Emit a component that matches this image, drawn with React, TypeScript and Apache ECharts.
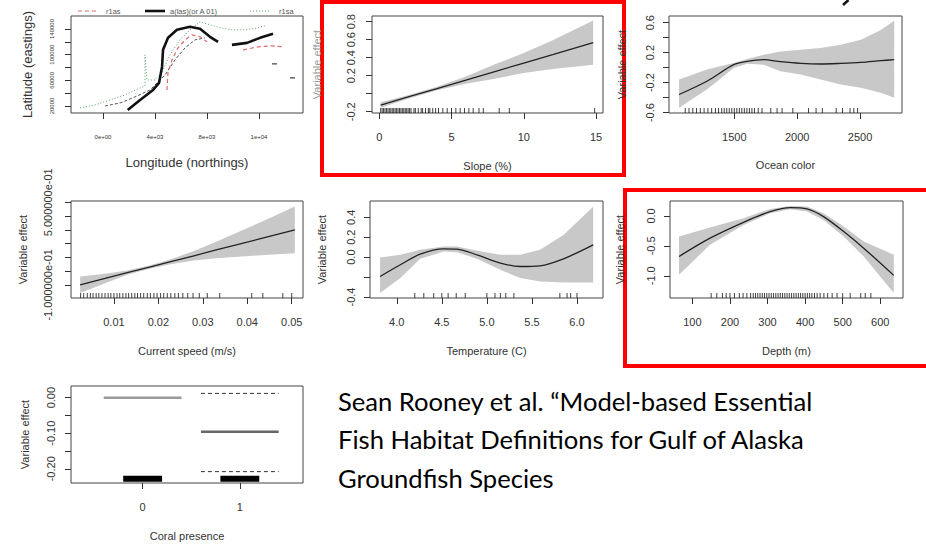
import React, { useEffect, useRef } from "react";
import * as echarts from "echarts";

const FONT = "'Liberation Sans', Arial, Helvetica, sans-serif";
const BAND = "#c8c8c8";
const FIT = "#222222";
const AXC = "#333333";

// ---------- Panel 1: map (longitude/latitude in thousands) ----------
const mapXTicks = [0, 4, 8, 12];
const mapXTickLabels = ["0e+00", "4e+03", "8e+03", "1e+04"];
const mapYTicks = [20, 40, 60, 80, 100, 120, 140];
const mapYLabelTicks = [20, 60, 100, 140];
const mapLegendNames = ["r1as", "a(las)(or A 01)", "r1sa"];
const mapRedA = [[4.92, 45], [5.0, 73.1], [5.31, 91.9], [5.77, 110.6], [6.31, 123.1], [6.85, 130.9], [7.46, 127.8], [8.0, 120]];
const mapRedB = [[10.77, 107.5], [11.92, 112.2], [13.0, 113.75], [13.85, 112.2]];
const mapBlackA = [[1.9, 13.75], [2.85, 29.4], [3.85, 45], [4.31, 55.9], [4.54, 80.9], [4.62, 107.5], [5.0, 126.25], [5.69, 138.75], [6.69, 143.4], [7.46, 140.3], [8.23, 127.8], [8.85, 120]];
const mapBlackB = [[9.92, 115.3], [11.08, 118.4], [12.08, 126.25], [13.08, 132.5]];
const mapGreen = [[-1.77, 16.9], [-0.62, 21.6], [0.54, 29.4], [1.69, 37.2], [2.85, 48.1], [3.23, 51.25], [3.23, 99.7], [3.38, 60.6], [4.0, 60.6], [4.54, 73.1], [5.15, 99.7], [5.92, 123.1], [6.69, 138.75], [7.46, 151.25], [8.23, 146.6], [9.0, 141.9], [9.92, 138.75], [10.92, 138.75], [11.92, 141.9], [12.46, 145]];
const mapGreyA = [[0.15, 20], [1.31, 24.7], [2.46, 34.1], [3.62, 45], [4.77, 68.4], [5.54, 91.9], [6.31, 110.6], [7.08, 123.1], [7.85, 126.25]];
const mapGreyB = [[13.0, 85.6], [13.38, 85.6]];
const mapGreyC = [[14.38, 63.75], [14.77, 63.75]];

// ---------- Panel 2: slope ----------
const slopeTicksX = [0, 5, 10, 15];
const slopeTicksY = [-0.2, 0, 0.2, 0.4, 0.6, 0.8];
const slopeLabelsY = [-0.2, 0.2, 0.4, 0.6, 0.8];
const slopeX = [0.1, 2, 4, 6, 8, 10, 12, 14.8];
const slopeFit = [-0.126, -0.036, 0.058, 0.152, 0.246, 0.341, 0.435, 0.567];
const slopeUpper = [-0.096, -0.016, 0.078, 0.192, 0.326, 0.451, 0.595, 0.812];
const slopeLower = [-0.156, -0.056, 0.038, 0.112, 0.166, 0.231, 0.275, 0.322];
const slopeRug = [0.1, 0.2, 0.3, 0.4, 0.5, 0.6, 0.7, 0.8, 0.9, 1.0, 1.1, 1.2, 1.3, 1.4, 1.5, 1.6, 1.7, 1.8, 1.9, 2.0, 2.1, 2.2, 2.4, 2.5, 2.7, 2.9, 3.0, 3.2, 3.4, 3.5, 3.7, 3.9, 4.1, 4.4, 4.7, 5.0, 5.3, 5.6, 5.9, 6.2, 6.5, 6.9, 7.2, 8.3, 9.0, 14.9];

// ---------- Panel 3: ocean color ----------
const oceanTicksX = [1500, 2000, 2500];
const oceanTicksY = [-0.6, -0.4, -0.2, 0, 0.2, 0.4, 0.6];
const oceanLabelsY = [-0.6, -0.2, 0.2, 0.6];
const oceanX = [1061, 1282, 1495, 1601, 1734, 1867, 2027, 2186, 2346, 2506, 2665, 2771];
const oceanFit = [-0.358, -0.181, 0.04, 0.083, 0.106, 0.079, 0.057, 0.049, 0.057, 0.07, 0.093, 0.106];
const oceanUpper = [-0.159, -0.026, 0.062, 0.115, 0.172, 0.216, 0.238, 0.261, 0.305, 0.371, 0.503, 0.626];
const oceanLower = [-0.534, -0.291, -0.004, 0.053, 0.04, -0.049, -0.093, -0.159, -0.225, -0.269, -0.335, -0.401];
const oceanRug = [1110, 1140, 1170, 1200, 1230, 1260, 1290, 1320, 1350, 1375, 1400, 1420, 1440, 1460, 1480, 1500, 1520, 1540, 1560, 1580, 1600, 1620, 1640, 1660, 1690, 1720, 1790, 1840, 1880, 1965, 2090, 2150, 2200, 2310, 2360, 2420, 2450, 2480];

// ---------- Panel 4: current speed ----------
const curTicksX = [0.01, 0.02, 0.03, 0.04, 0.05];
const curTicksY = [-0.1, 0, 0.1, 0.2, 0.3, 0.4, 0.5];
const curLabelsY = [-0.1, 0.5];
const curX = [0.0024, 0.008, 0.013, 0.018, 0.023, 0.028, 0.033, 0.038, 0.043, 0.0507];
const curFit = [-0.1, -0.054, -0.012, 0.029, 0.07, 0.111, 0.153, 0.194, 0.235, 0.299];
const curUpper = [-0.04, -0.019, 0.003, 0.041, 0.088, 0.146, 0.213, 0.284, 0.355, 0.469];
const curLower = [-0.16, -0.089, -0.027, 0.017, 0.052, 0.076, 0.093, 0.104, 0.115, 0.129];
const curRug = [0.0025, 0.0032, 0.004, 0.0047, 0.0053, 0.006, 0.0066, 0.0073, 0.008, 0.0087, 0.0093, 0.01, 0.0107, 0.0113, 0.012, 0.0127, 0.0133, 0.014, 0.0147, 0.0153, 0.016, 0.0167, 0.0175, 0.0182, 0.019, 0.0197, 0.0205, 0.0212, 0.022, 0.0228, 0.0237, 0.0245, 0.0255, 0.0266, 0.0278, 0.0292, 0.031, 0.0338, 0.041, 0.0435, 0.048, 0.05];

// ---------- Panel 5: temperature ----------
const tempTicksX = [4.0, 4.5, 5.0, 5.5, 6.0];
const tempTicksY = [-0.4, -0.2, 0, 0.2, 0.4];
const tempLabelsY = [-0.4, 0, 0.2, 0.4];
const tempX = [3.815, 4.04, 4.26, 4.52, 4.67, 4.89, 5.15, 5.37, 5.59, 5.85, 6.18];
const tempFit = [-0.194, -0.077, 0.03, 0.083, 0.08, 0.023, -0.06, -0.094, -0.087, -0.017, 0.123];
const tempUpper = [-0.004, 0.023, 0.073, 0.106, 0.106, 0.063, 0.023, 0.023, 0.073, 0.223, 0.506];
const tempLower = [-0.36, -0.21, -0.017, 0.056, 0.05, -0.017, -0.127, -0.21, -0.244, -0.254, -0.254];
const tempRug = [4.2, 4.3, 4.41, 4.5, 4.57, 4.66, 4.76, 5.0, 5.09, 5.15, 5.21, 5.3, 5.81, 5.89, 5.93, 6.0];

// ---------- Panel 6: depth ----------
const depthTicksX = [100, 200, 300, 400, 500, 600];
const depthTicksY = [-1.0, -0.5, 0.0];
const depthX = [64.5, 147, 236, 307, 360.5, 405, 449, 502.7, 556, 636];
const depthFit = [-0.678, -0.372, -0.106, 0.072, 0.139, 0.117, -0.011, -0.261, -0.539, -0.994];
const depthUpper = [-0.344, -0.194, -0.039, 0.117, 0.167, 0.16, 0.044, -0.178, -0.428, -0.65];
const depthLower = [-0.983, -0.483, -0.15, 0.044, 0.111, 0.075, -0.067, -0.344, -0.678, -1.289];
const depthRug = [150, 165, 180, 190, 200, 212, 225, 235, 245, 255, 262, 268, 274, 280, 286, 292, 298, 304, 310, 316, 322, 328, 334, 340, 346, 352, 358, 364, 370, 376, 382, 388, 394, 400, 406, 412, 418, 425, 432, 440, 450, 460, 472, 485, 500, 520, 548, 560, 575];

// ---------- Panel 7: coral presence ----------
const coralTicksX = [0, 1];
const coralTicksY = [0, -0.05, -0.1, -0.15, -0.2];
const coralLabelsY = [0, -0.1, -0.2];
const coralLevels = [0, 1];
const coralEffect = [0.0, -0.096];
const coralUpper = [null, 0.012];
const coralLower = [null, -0.208];
const coralRugY = -0.228;

// ---------- citation ----------
const citationLines = [
  "Sean Rooney et al. \u201cModel-based Essential",
  "Fish Habitat Definitions for Gulf of Alaska",
  "Groundfish Species",
];

const fmtExp = (v: number) => {
  const [m, e] = v.toExponential(6).split("e");
  const sign = e[0] === "-" ? "-" : "+";
  const d = e.replace(/[+-]/, "").padStart(2, "0");
  return `${m}e${sign}${d}`;
};

type AxOpt = {
  g: number; min: number; max: number; ticks: number[]; labels?: number[];
  fmt: (v: number) => string; name: string; nameGap: number; margin: number;
  fs?: number; nfs?: number; nameColor?: string;
};

const xAx = (o: AxOpt) => ({
  type: "value", gridIndex: o.g, min: o.min, max: o.max,
  name: o.name, nameLocation: "middle", nameGap: o.nameGap,
  nameTextStyle: { fontSize: o.nfs ?? 11, color: o.nameColor ?? AXC, fontFamily: FONT },
  axisLine: { show: false, onZero: false },
  axisTick: { show: true, length: 6, customValues: o.ticks, lineStyle: { color: AXC, width: 1 } },
  axisLabel: { show: true, customValues: o.labels ?? o.ticks, formatter: o.fmt, margin: o.margin, fontSize: o.fs ?? 11, color: AXC, fontFamily: FONT },
  splitLine: { show: false },
});

const yAx = (o: AxOpt) => ({
  ...xAx(o),
  axisLabel: { show: true, customValues: o.labels ?? o.ticks, formatter: o.fmt, margin: o.margin, fontSize: o.fs ?? 11, color: AXC, fontFamily: FONT, rotate: 90 },
});

const bandSeries = (idx: number, xs: number[], lo: number[], hi: number[]) => ({
  type: "custom", xAxisIndex: idx, yAxisIndex: idx, silent: true, z: 1,
  encode: { x: 0, y: [1, 2] },
  data: xs.map((x, i) => [x, lo[i], hi[i]]),
  renderItem: (params: any, api: any) => {
    if (params.dataIndex !== 0) return null;
    const pts: number[][] = [];
    xs.forEach((x, i) => pts.push(api.coord([x, hi[i]])));
    for (let i = xs.length - 1; i >= 0; i--) pts.push(api.coord([xs[i], lo[i]]));
    return { type: "polygon", shape: { points: pts }, style: { fill: BAND } };
  },
});

const fitSeries = (idx: number, xs: number[], ys: number[], smooth = 0) => ({
  type: "line", xAxisIndex: idx, yAxisIndex: idx, silent: true, z: 3,
  data: xs.map((x, i) => [x, ys[i]]),
  symbol: "none", showSymbol: false, smooth,
  lineStyle: { color: FIT, width: 1.3 },
});

const rugSeries = (idx: number, xs: number[], yBase: number) => ({
  type: "scatter", xAxisIndex: idx, yAxisIndex: idx, silent: true, z: 4, clip: false,
  data: xs.map((x) => [x, yBase]),
  symbol: "rect", symbolSize: [1, 5], symbolOffset: [0, -2.5],
  itemStyle: { color: "#111" },
});

const plainLine = (idx: number, data: any[], color: string, width: number, type: any, name?: string) => ({
  type: "line", name, xAxisIndex: idx, yAxisIndex: idx, silent: true, z: 3,
  data, symbol: "none", showSymbol: false,
  lineStyle: { color, width, type },
  itemStyle: { color },
});

const RED = "#e06a6a";
const GREEN = "#5a9e6a";

export default function App() {
  const ref = useRef<HTMLDivElement>(null);
  useEffect(() => {
    if (!ref.current) return;
    const chart = echarts.init(ref.current, undefined, { renderer: "svg" });
    const gridBase = { show: true, borderColor: "#444", borderWidth: 1, backgroundColor: "transparent", containLabel: false };
    const grids = [
      { left: 71, top: 16, width: 232, height: 97 },
      { left: 372, top: 16, width: 231, height: 97 },
      { left: 669, top: 16, width: 233, height: 97 },
      { left: 71, top: 201, width: 232, height: 97 },
      { left: 370, top: 201, width: 233, height: 97 },
      { left: 670, top: 201, width: 233, height: 97 },
      { left: 71, top: 386, width: 232, height: 97 },
    ].map((g) => ({ ...gridBase, ...g }));

    const f1 = (v: number) => v.toFixed(1);
    const f2 = (v: number) => v.toFixed(2);

    const mapLim = { ymin: 9.06, ymax: 160.3 };
    const slopeLim = { ymin: -0.214, ymax: 0.863 };
    const oceanLim = { ymin: -0.605, ymax: 0.689 };
    const curLim = { ymin: -0.196, ymax: 0.509 };
    const tempLim = { ymin: -0.41, ymax: 0.563 };
    const depthLim = { ymin: -1.372, ymax: 0.25 };
    const coralLim = { ymin: -0.24, ymax: 0.0328 };

    const xAxis = [
      xAx({ g: 0, min: -2.462, max: 15.385, ticks: mapXTicks, fmt: (v) => mapXTickLabels[mapXTicks.indexOf(v)] ?? "", name: "Longitude (northings)", nameGap: 43, margin: 21, fs: 6, nfs: 13 }),
      xAx({ g: 1, min: -0.5, max: 15.48, ticks: slopeTicksX, fmt: (v) => String(v), name: "Slope (%)", nameGap: 47, margin: 18 }),
      xAx({ g: 2, min: 981, max: 2833, ticks: oceanTicksX, fmt: (v) => String(v), name: "Ocean color", nameGap: 46, margin: 18 }),
      xAx({ g: 3, min: 0.00034, max: 0.05254, ticks: curTicksX, fmt: f2, name: "Current speed (m/s)", nameGap: 47, margin: 18 }),
      xAx({ g: 4, min: 3.703, max: 6.289, ticks: tempTicksX, fmt: f1, name: "Temperature (C)", nameGap: 47, margin: 18 }),
      xAx({ g: 5, min: 40.5, max: 660.5, ticks: depthTicksX, fmt: (v) => String(v), name: "Depth (m)", nameGap: 47, margin: 18 }),
      xAx({ g: 6, min: -0.737, max: 1.65, ticks: coralTicksX, fmt: (v) => String(v), name: "Coral presence", nameGap: 47, margin: 18 }),
    ];
    const yAxis = [
      yAx({ g: 0, min: mapLim.ymin, max: mapLim.ymax, ticks: mapYTicks, labels: mapYLabelTicks, fmt: (v) => String(Math.round(v * 1000)), name: "Latitude (eastings)", nameGap: 37, margin: 16, fs: 6, nfs: 13 }),
      yAx({ g: 1, min: slopeLim.ymin, max: slopeLim.ymax, ticks: slopeTicksY, labels: slopeLabelsY, fmt: f1, name: "Variable effect", nameGap: 50, margin: 16, nameColor: "#999" }),
      yAx({ g: 2, min: oceanLim.ymin, max: oceanLim.ymax, ticks: oceanTicksY, labels: oceanLabelsY, fmt: f1, name: "Variable effect", nameGap: 42, margin: 14 }),
      yAx({ g: 3, min: curLim.ymin, max: curLim.ymax, ticks: curTicksY, labels: curLabelsY, fmt: fmtExp, name: "Variable effect", nameGap: 43, margin: 18 }),
      yAx({ g: 4, min: tempLim.ymin, max: tempLim.ymax, ticks: tempTicksY, labels: tempLabelsY, fmt: f1, name: "Variable effect", nameGap: 43, margin: 14 }),
      yAx({ g: 5, min: depthLim.ymin, max: depthLim.ymax, ticks: depthTicksY, fmt: f1, name: "Variable effect", nameGap: 45, margin: 14 }),
      yAx({ g: 6, min: coralLim.ymin, max: coralLim.ymax, ticks: coralTicksY, labels: coralLabelsY, fmt: f2, name: "Variable effect", nameGap: 41, margin: 15 }),
    ];

    const series: any[] = [
      // panel 1
      plainLine(0, mapGreyA, "#555", 1, [3, 2]),
      plainLine(0, mapGreyB, "#444", 1.2, "solid"),
      plainLine(0, mapGreyC, "#444", 1.2, "solid"),
      plainLine(0, mapGreen, GREEN, 1, [1, 2], mapLegendNames[2]),
      plainLine(0, mapRedA, RED, 1.2, [4, 3], mapLegendNames[0]),
      plainLine(0, mapRedB, RED, 1.2, [4, 3], mapLegendNames[0]),
      plainLine(0, mapBlackA, "#111", 2.6, "solid", mapLegendNames[1]),
      plainLine(0, mapBlackB, "#111", 2.6, "solid", mapLegendNames[1]),
      // panel 2
      bandSeries(1, slopeX, slopeLower, slopeUpper),
      fitSeries(1, slopeX, slopeFit),
      rugSeries(1, slopeRug, slopeLim.ymin),
      // panel 3
      bandSeries(2, oceanX, oceanLower, oceanUpper),
      fitSeries(2, oceanX, oceanFit, 0.3),
      rugSeries(2, oceanRug, oceanLim.ymin),
      // panel 4
      bandSeries(3, curX, curLower, curUpper),
      fitSeries(3, curX, curFit),
      rugSeries(3, curRug, curLim.ymin),
      // panel 5
      bandSeries(4, tempX, tempLower, tempUpper),
      fitSeries(4, tempX, tempFit, 0.3),
      rugSeries(4, tempRug, tempLim.ymin),
      // panel 6
      bandSeries(5, depthX, depthLower, depthUpper),
      fitSeries(5, depthX, depthFit, 0.3),
      rugSeries(5, depthRug, depthLim.ymin),
    ];
    // panel 7
    coralLevels.forEach((lvl, i) => {
      series.push(plainLine(6, [[lvl - 0.4, coralEffect[i]], [lvl + 0.4, coralEffect[i]]], i === 0 ? "#9a9a9a" : "#666", 2.5, "solid"));
      if (coralUpper[i] != null) series.push(plainLine(6, [[lvl - 0.4, coralUpper[i]], [lvl + 0.4, coralUpper[i]]], "#333", 1, [4, 3]));
      if (coralLower[i] != null) series.push(plainLine(6, [[lvl - 0.4, coralLower[i]], [lvl + 0.4, coralLower[i]]], "#333", 1, [4, 3]));
      series.push(plainLine(6, [[lvl - 0.2, coralRugY], [lvl + 0.2, coralRugY]], "#000", 6, "solid"));
    });

    // legend of panel 1 (line keys + labels)
    const legendKeys = [
      { x1: 78, x2: 97, tx: 106, stroke: RED, lw: 1.2, dash: [4, 3] },
      { x1: 145, x2: 165, tx: 170, stroke: "#111", lw: 2.6, dash: null },
      { x1: 250, x2: 270, tx: 279, stroke: GREEN, lw: 1.2, dash: [1, 2] },
    ];
    const legendGraphic = legendKeys.flatMap((k, i) => [
      { type: "line", shape: { x1: k.x1, y1: 11, x2: k.x2, y2: 11 }, style: { stroke: k.stroke, lineWidth: k.lw, lineDash: k.dash } },
      { type: "text", x: k.tx, y: 11, style: { text: mapLegendNames[i], fill: "#555", fontSize: 7.5, fontFamily: FONT, verticalAlign: "middle" } },
    ]);

    const graphic: any[] = [
      { type: "rect", z: -10, shape: { x: 322, y: 2, width: 302, height: 173 }, style: { fill: "none", stroke: "#ff0000", lineWidth: 4 } },
      { type: "rect", z: -10, shape: { x: 625, y: 190, width: 310, height: 176 }, style: { fill: "none", stroke: "#ff0000", lineWidth: 4 } },
      // descender of a cropped title letter at the top edge
      { type: "line", shape: { x1: 848.5, y1: 0, x2: 843, y2: 5 }, style: { stroke: "#111", lineWidth: 2.5 } },
      ...legendGraphic,
      ...citationLines.map((t, i) => ({
        type: "text", x: 338, y: 401 + i * 38.3,
        style: { text: t, fill: "#000", fontSize: 25.6, fontFamily: "Lato, 'Open Sans', sans-serif", verticalAlign: "middle", align: "left" },
      })),
    ];

    chart.setOption({
      animation: false,
      backgroundColor: "#ffffff",
      textStyle: { fontFamily: FONT },
      grid: grids,
      xAxis,
      yAxis,
      series,
      graphic,
    });
    return () => chart.dispose();
  }, []);
  return <div ref={ref} style={{ position: "fixed", left: 0, top: 0, width: 926, height: 545, background: "#fff" }} />;
}
